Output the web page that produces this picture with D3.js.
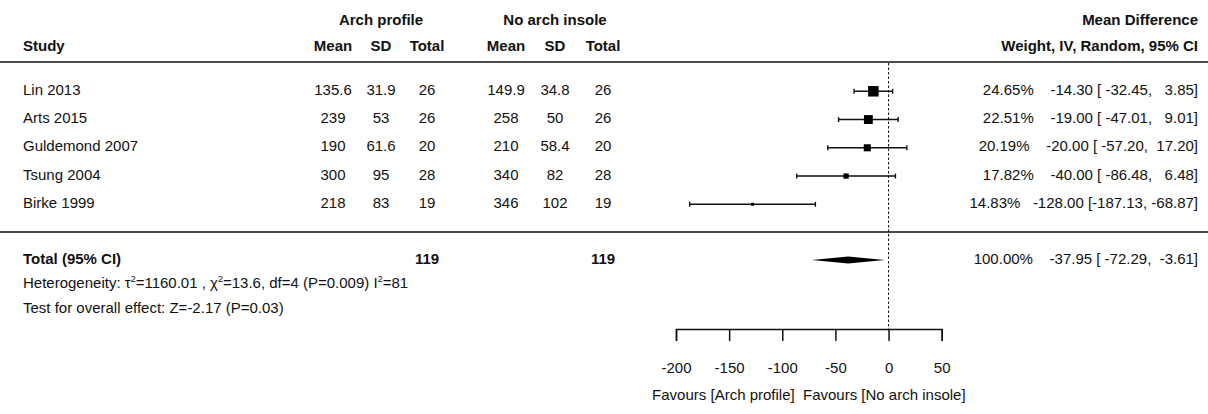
<!DOCTYPE html>
<html>
<head>
<meta charset="utf-8">
<script src="https://cdn.jsdelivr.net/npm/d3@7/dist/d3.min.js"></script>
<style>
  html, body { margin: 0; padding: 0; background: #fff; }
  svg text { font-family: "Liberation Sans", Arial, Helvetica, sans-serif; font-size: 15px; fill: #111; white-space: pre; }
  .b { font-weight: bold; }
</style>
</head>
<body>
<svg id="chart" width="1208" height="414"></svg>
<script>
// ---------- data ----------
const studies    = ["Lin 2013", "Arts 2015", "Guldemond 2007", "Tsung 2004", "Birke 1999"];
const archMean   = [135.6, 239, 190, 300, 218];
const archSD     = [31.9, 53, 61.6, 95, 83];
const archN      = [26, 26, 20, 28, 19];
const noArchMean = [149.9, 258, 210, 340, 346];
const noArchSD   = [34.8, 50, 58.4, 82, 102];
const noArchN    = [26, 26, 20, 28, 19];
const weights    = [24.65, 22.51, 20.19, 17.82, 14.83];
const md         = [-14.30, -19.00, -20.00, -40.00, -128.00];
const ciLow      = [-32.45, -47.01, -57.20, -86.48, -187.13];
const ciHigh     = [3.85, 9.01, 17.20, 6.48, -68.87];
const total      = { n1: 119, n2: 119, weight: 100, md: -37.95, lo: -72.29, hi: -3.61 };
const xTicks     = [-200, -150, -100, -50, 0, 50];
const heterogeneity = { tau2: "1160.01", chi2: "13.6", df: 4, p: "0.009", i2: "81" };
const overallTest = "Test for overall effect: Z=-2.17 (P=0.03)";

// ---------- layout ----------
const svg = d3.select("#chart");
const W = 1208;
const x = d3.scaleLinear().domain([-200, 50]).range([676, 941.7]);
const rowY = d3.scaleLinear().domain([0, 1]).range([89.5, 117.75]);
const sq = d3.scaleLinear().domain([14.83, 24.65]).range([3, 10.5]);

const colStudy = 23;
const cols = { m1: 333, s1: 381, n1: 427, m2: 506, s2: 555, n2: 603 };
const rightX = 1198;

const pad = (v, n) => v.toFixed(2).padStart(n, " ");
const ciText = (w, m, lo, hi) => w.toFixed(2) + "%   " + pad(m, 7) + " [" + pad(lo, 7) + ", " + pad(hi, 6) + "]";

function txt(xp, yp, s, anchor, cls) {
  return svg.append("text").attr("x", xp).attr("y", yp).attr("dy", "0.35em")
    .attr("text-anchor", anchor || "start").attr("class", cls || null).text(s);
}

// headers
txt(cols.s1, 20, "Arch profile", "middle", "b");
txt(cols.s2, 20, "No arch insole", "middle", "b");
txt(rightX, 20, "Mean Difference", "end", "b");
txt(colStudy, 46, "Study", "start", "b");
[["m1","Mean"],["s1","SD"],["n1","Total"],["m2","Mean"],["s2","SD"],["n2","Total"]]
  .forEach(([k, s]) => txt(cols[k], 46, s, "middle", "b"));
txt(rightX, 46, "Weight, IV, Random, 95% CI", "end", "b");

// horizontal rules
svg.append("line").attr("x1", 0).attr("x2", W).attr("y1", 62).attr("y2", 62)
  .attr("stroke", "#111").attr("stroke-width", 1.5);
svg.append("line").attr("x1", 0).attr("x2", W).attr("y1", 232).attr("y2", 232)
  .attr("stroke", "#111").attr("stroke-width", 1.5);

// zero line
svg.append("line").attr("x1", x(0)).attr("x2", x(0)).attr("y1", 63).attr("y2", 329)
  .attr("stroke", "#111").attr("stroke-width", 1).attr("stroke-dasharray", "2.5,2");

// study rows
studies.forEach((s, i) => {
  const y = rowY(i);
  txt(colStudy, y, s);
  txt(cols.m1, y, String(archMean[i]), "middle");
  txt(cols.s1, y, String(archSD[i]), "middle");
  txt(cols.n1, y, String(archN[i]), "middle");
  txt(cols.m2, y, String(noArchMean[i]), "middle");
  txt(cols.s2, y, String(noArchSD[i]), "middle");
  txt(cols.n2, y, String(noArchN[i]), "middle");
  txt(rightX, y, ciText(weights[i], md[i], ciLow[i], ciHigh[i]), "end");

  const yl = y + 1.8;
  const g = svg.append("g");
  g.append("line").attr("x1", x(ciLow[i])).attr("x2", x(ciHigh[i])).attr("y1", yl).attr("y2", yl)
    .attr("stroke", "#111").attr("stroke-width", 1.5);
  [ciLow[i], ciHigh[i]].forEach(v => {
    g.append("line").attr("x1", x(v)).attr("x2", x(v)).attr("y1", yl - 2.5).attr("y2", yl + 2.5)
      .attr("stroke", "#111").attr("stroke-width", 1.4);
  });
  const s2 = sq(weights[i]);
  g.append("rect").attr("x", x(md[i]) - s2 / 2).attr("y", yl - s2 / 2)
    .attr("width", s2).attr("height", s2).attr("fill", "#000");
});

// total row
const yT = 259;
txt(colStudy, yT, "Total (95% CI)", "start", "b");
txt(cols.n1, yT, String(total.n1), "middle", "b");
txt(cols.n2, yT, String(total.n2), "middle", "b");
txt(rightX, yT, ciText(total.weight, total.md, total.lo, total.hi), "end");
const dh = 3.5;
svg.append("path")
  .attr("d", `M${x(total.lo)},${yT + 1}L${x(total.md)},${yT + 1 - dh}L${x(total.hi)},${yT + 1}L${x(total.md)},${yT + 1 + dh}Z`)
  .attr("fill", "#000");

// heterogeneity
const het = svg.append("text").attr("x", colStudy).attr("y", 283).attr("dy", "0.35em");
const sup = s => { het.append("tspan").attr("dy", -6).style("font-size", "9px").text(s); };
const base = s => { het.append("tspan").attr("dy", 6).text(s); };
het.append("tspan").text("Heterogeneity: \u03C4");
sup("2");
base("=" + heterogeneity.tau2 + " , \u03C7");
sup("2");
base("=" + heterogeneity.chi2 + ", df=" + heterogeneity.df + " (P=" + heterogeneity.p + ") I");
sup("2");
base("=" + heterogeneity.i2);

txt(colStudy, 308, overallTest);

// axis
const axisY = 329;
const axis = d3.axisBottom(x).tickValues(xTicks).tickSize(12).tickPadding(21).tickFormat(d => String(d));
const ag = svg.append("g").attr("transform", `translate(0,${axisY})`).call(axis);
ag.select(".domain").attr("stroke", "#111").attr("stroke-width", 1.5);
ag.selectAll(".tick line").attr("stroke", "#111").attr("stroke-width", 1.5);
ag.selectAll(".tick text").style("font-size", "15px").style("font-family", "\"Liberation Sans\", Arial, sans-serif").attr("fill", "#111");

txt((x(-200) + x(50)) / 2, 395, "Favours [Arch profile]  Favours [No arch insole]", "middle");
</script>
</body>
</html>
